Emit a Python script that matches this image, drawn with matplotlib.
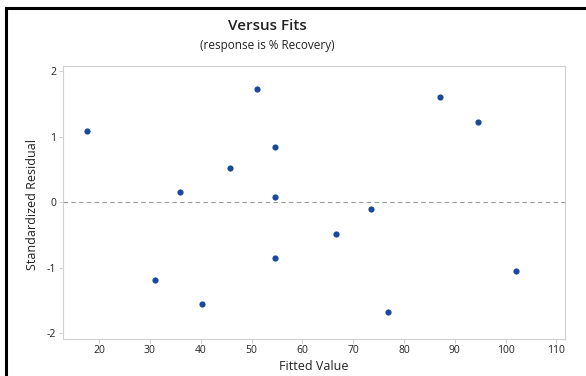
import matplotlib
matplotlib.use("Agg")
import matplotlib.pyplot as plt
from matplotlib.lines import Line2D

plt.rcParams['font.family'] = ['Open Sans', 'DejaVu Sans']
plt.rcParams['axes.unicode_minus'] = False

# fitted values and standardized residuals
fitted = [17.7, 31.1, 35.9, 40.2, 45.7, 51.0, 54.6, 54.6, 54.6,
          66.7, 73.5, 76.9, 87.0, 94.5, 102.1]
std_resid = [1.09, -1.18, 0.15, -1.56, 0.53, 1.73, 0.85, 0.08, -0.85,
             -0.49, -0.11, -1.68, 1.60, 1.22, -1.05]
x_ticks = [20, 30, 40, 50, 60, 70, 80, 90, 100, 110]
y_ticks = [-2, -1, 0, 1, 2]

fig = plt.figure(figsize=(5.86, 3.76), dpi=100)
W, H = 586, 376
ax = fig.add_axes([63 / W, 1 - 338.5 / H, (564.5 - 63) / W, (338.5 - 66) / H])

ax.scatter(fitted, std_resid, s=20, color='#1a4a9c', zorder=3, linewidths=0)
ax.axhline(0, color='#9a9a9a', linestyle=(0, (4, 3)), linewidth=0.8, zorder=2)

ax.set_xlim(12.9, 111.6)
ax.set_ylim(-2.08, 2.08)
ax.set_xticks(x_ticks)
ax.set_yticks(y_ticks)
ax.tick_params(axis='both', labelsize=7.5, length=3, width=0.6,
               color='#c8c8c8', labelcolor='#222222', pad=2)
for s in ax.spines.values():
    s.set_color('#d0d0d0')
    s.set_linewidth(0.8)

# titles and labels
fig.text(267 / W, 1 - 26 / H, 'Versus Fits', ha='center', va='center',
         fontsize=11, fontweight='semibold', color='#222222')
fig.text(267 / W, 1 - 46 / H, '(response is % Recovery)', ha='center',
         va='center', fontsize=8.5, color='#222222')
fig.text(314 / W, 1 - 366 / H, 'Fitted Value', ha='center', va='center',
         fontsize=9, color='#222222')
fig.text(33 / W, 1 - 205 / H, 'Standardized Residual', ha='center',
         va='center', rotation=90, fontsize=9, color='#222222')

# black frame on left and top edges (screenshot border)
fig.add_artist(Line2D([6 / W, 6 / W], [0, 1 - 8 / H], color='black',
                      linewidth=2.2, transform=fig.transFigure))
fig.add_artist(Line2D([6 / W, 1], [1 - 8 / H, 1 - 8 / H], color='black',
                      linewidth=2.2, transform=fig.transFigure))

fig.savefig('out.png', dpi=100)
